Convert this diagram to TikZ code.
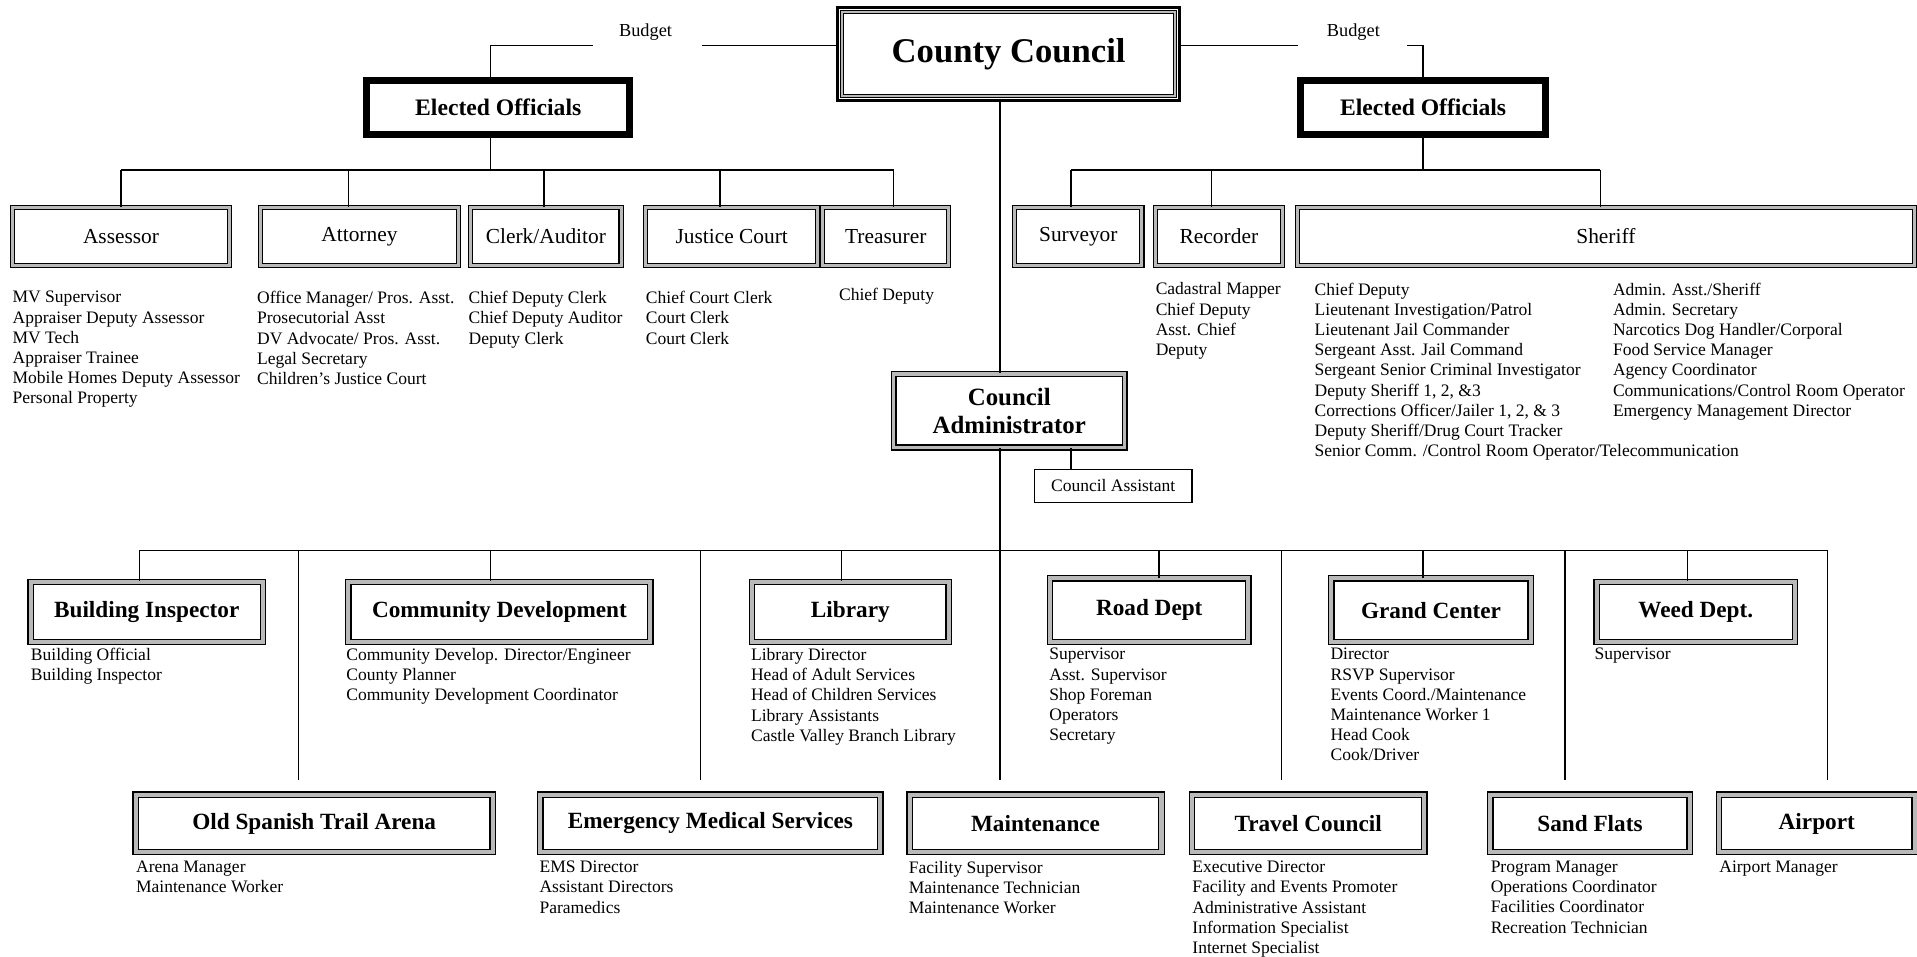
\documentclass[tikz,border=0pt]{standalone}
\usepackage{fontspec}
\setmainfont{Liberation Serif}
\newcommand\bx[7]{\node[#1, minimum width={(#4-#3)*0.6pt}, minimum height={(#6-#5)*0.6pt}] (#2) at ({(#3+#4)/2},{(#5+#6)/2}) {#7};}
\begin{document}
\begin{tikzpicture}[x=0.6pt,y=-0.6pt,
  ln/.style={line width=0.6pt},
  dblA/.style={draw=black, line width=0.55pt, double=gray!55, double distance=1.5pt, inner sep=0pt},
  dblB/.style={draw=black, line width=0.6pt, double=gray!55, double distance=2pt, inner sep=0pt},
  dblC/.style={draw=black, line width=0.45pt, double=gray!55, double distance=1.1pt},
  eobox/.style={draw=black, line width=3.4pt, inner sep=0pt, font=\fontsize{11.6}{14}\selectfont\bfseries},
  ccbox/.style={draw=black, line width=1.5pt, inner sep=0pt, font=\fontsize{17}{20}\selectfont\bfseries},
  thinbox/.style={draw=black, line width=0.6pt, inner sep=0pt, font=\fontsize{8.6}{9.9}\selectfont},
  lst/.style={anchor=north west, align=left, inner sep=0pt, font=\fontsize{8.6}{9.9}\selectfont},
  t1/.style={font=\fontsize{10.5}{12}\selectfont},
  t2/.style={font=\fontsize{11.4}{13}\selectfont\bfseries},
  bud/.style={inner sep=0pt, font=\fontsize{9}{10}\selectfont},
]
\useasboundingbox (0,0) rectangle (1568,782);

% ---------- top ----------
\bx{ccbox}{cc}{685}{965}{6}{82}{County Council}
\draw[dblC] ([shift={(5,5)}]cc.north west) rectangle ([shift={(-5,-5)}]cc.south east);
\bx{eobox}{eoL}{300}{515}{66}{110}{Elected Officials}
\bx{eobox}{eoR}{1064}{1264}{66}{110}{Elected Officials}
\node[bud] (budL) at (528,26) {Budget};
\node[bud] (budR) at (1107,26) {Budget};

\coordinate (bL1) at (574,37);
\coordinate (bL2) at (485,37);
\coordinate (bL3) at (401,37);
\coordinate (bR1) at (1062,37);
\coordinate (bR2) at (1151,37);
\coordinate (bR3) at (1164,37);
\draw[ln] (cc.west |- bL1) -- (bL1);
\draw[ln] (bL2) -- (bL3) -- (bL3 |- eoL.north);
\draw[ln] (cc.east |- bR1) -- (bR1);
\draw[ln] (bR2) -- (bR3) -- (bR3 |- eoR.north);

% ---------- elected officials' departments ----------
\bx{dblA,t1}{assessor}{10}{188}{170}{217}{Assessor}
\bx{dblA,t1}{attorney}{213}{375}{170}{217}{Attorney}
\bx{dblA,t1}{clerk}{385}{508}{170}{217}{Clerk/Auditor}
\bx{dblA,t1}{justice}{528}{669}{170}{217}{Justice Court}
\bx{dblA,t1}{treasurer}{673}{776}{170}{217}{Treasurer}
\bx{dblA,t1}{surveyor}{830}{934}{170}{217}{Surveyor}
\bx{dblA,t1}{recorder}{945}{1049}{170}{217}{Recorder}
\bx{dblA,t1}{sheriff}{1061}{1566}{170}{217}{Sheriff}

\coordinate (busL) at (401,139);
\coordinate (dA) at (99,139);
\coordinate (dB) at (285,139);
\coordinate (dC) at (445,139);
\coordinate (dD) at (589,139);
\coordinate (dE) at (731,139);
\draw[ln] (bL3 |- eoL.south) -- (busL);
\draw[ln] (dA) -- (dE);
\draw[ln] (dA) -- (dA |- assessor.north);
\draw[ln] (dB) -- (dB |- attorney.north);
\draw[ln] (dC) -- (dC |- clerk.north);
\draw[ln] (dD) -- (dD |- justice.north);
\draw[ln] (dE) -- (dE |- treasurer.north);

\coordinate (busR) at (1164,139);
\coordinate (dF) at (876,139);
\coordinate (dG) at (991,139);
\coordinate (dH) at (1309,139);
\draw[ln] (bR3 |- eoR.south) -- (busR);
\draw[ln] (dF) -- (dH);
\draw[ln] (dF) -- (dF |- surveyor.north);
\draw[ln] (dG) -- (dG |- recorder.north);
\draw[ln] (dH) -- (dH |- sheriff.north);

\node[lst] (lAss) at (10,238) {MV Supervisor\\Appraiser Deputy Assessor\\MV Tech\\Appraiser Trainee\\Mobile Homes Deputy Assessor\\Personal Property};
\node[lst] (lAtt) at (210,238) {Office Manager/ Pros. Asst.\\Prosecutorial Asst\\DV Advocate/ Pros. Asst.\\Legal Secretary\\Children’s Justice Court};
\node[lst] (lCle) at (383,238) {Chief Deputy Clerk\\Chief Deputy Auditor\\Deputy Clerk};
\node[lst] (lJus) at (528,238) {Chief Court Clerk\\Court Clerk\\Court Clerk};
\node[lst] (lTre) at (686,235) {Chief Deputy};
\node[lst] (lRec) at (945,231) {Cadastral Mapper\\Chief Deputy\\Asst. Chief\\Deputy};
\node[lst] (lSh1) at (1075,231) {Chief Deputy\\Lieutenant Investigation/Patrol\\Lieutenant Jail Commander\\Sergeant Asst. Jail Command\\Sergeant Senior Criminal Investigator\\Deputy Sheriff 1, 2, \&3\\Corrections Officer/Jailer 1, 2, \& 3\\Deputy Sheriff/Drug Court Tracker\\Senior Comm. /Control Room Operator/Telecommunication};
\node[lst] (lSh2) at (1319,231) {Admin. Asst./Sheriff\\Admin. Secretary\\Narcotics Dog Handler/Corporal\\Food Service Manager\\Agency Coordinator\\Communications/Control Room Operator\\Emergency Management Director};

% ---------- council administrator ----------
\bx{draw=black, line width=0.7pt, double=gray!55, double distance=1.6pt, inner sep=0pt, align=center, font=\fontsize{12.2}{13.8}\selectfont\bfseries}{ca}{731}{920}{306}{366}{Council\\Administrator}
\bx{thinbox}{cas}{846}{975}{384}{411}{Council Assistant}

\coordinate (cx) at (818,0);
\coordinate (asx) at (876,0);
\coordinate (mt) at (818,638);
\draw[ln] (cc.south -| cx) -- (ca.north -| cx);
\draw[ln] (ca.south -| cx) -- (mt);
\draw[ln] (ca.south -| asx) -- (cas.north -| asx);

% ---------- departments ----------
\bx{dblB,t2}{bi}{25}{215}{476}{525}{Building Inspector}
\bx{dblB,t2}{cd}{285}{532}{476}{525}{Community Development}
\bx{dblB,t2}{lib}{615}{776}{476}{525}{Library}
\bx{dblB,t2}{road}{859}{1021}{473}{525}{Road Dept}
\bx{dblB,t2}{grand}{1089}{1252}{473}{525}{Grand Center}
\bx{dblB,t2}{weed}{1306}{1468}{476}{525}{Weed Dept.}

\bx{dblB,t2}{osta}{111}{403}{650}{697}{Old Spanish Trail Arena}
\bx{dblB,t2}{ems}{442}{720}{650}{697}{Emergency Medical Services}
\bx{dblB,t2}{maint}{744}{950}{650}{697}{Maintenance}
\bx{dblB,t2}{travel}{975}{1165}{650}{697}{Travel Council}
\bx{dblB,t2}{sand}{1219}{1382}{650}{697}{Sand Flats}
\bx{dblB,t2}{airport}{1406}{1566}{650}{697}{Airport}

\coordinate (u1) at (114,450);
\coordinate (u2) at (401,450);
\coordinate (u3) at (688,450);
\coordinate (u4) at (948,450);
\coordinate (u5) at (1164,450);
\coordinate (u6) at (1380,450);
\coordinate (v1) at (244,450);
\coordinate (v2) at (573,450);
\coordinate (v4) at (1048,450);
\coordinate (v5) at (1280,450);
\coordinate (v6) at (1495,450);
\coordinate (w1) at (244,638);
\coordinate (w2) at (573,638);
\coordinate (w4) at (1048,638);
\coordinate (w5) at (1280,638);
\coordinate (w6) at (1495,638);
\draw[ln] (u1) -- (v6);
\draw[ln] (u1) -- (u1 |- bi.north);
\draw[ln] (u2) -- (u2 |- cd.north);
\draw[ln] (u3) -- (u3 |- lib.north);
\draw[ln] (u4) -- (u4 |- road.north);
\draw[ln] (u5) -- (u5 |- grand.north);
\draw[ln] (u6) -- (u6 |- weed.north);
\draw[ln] (v1) -- (w1);
\draw[ln] (v2) -- (w2);
\draw[ln] (v4) -- (w4);
\draw[ln] (v5) -- (w5);
\draw[ln] (v6) -- (w6);

\node[lst] (lBi) at (25,530) {Building Official\\Building Inspector};
\node[lst] (lCd) at (283,530) {Community Develop. Director/Engineer\\County Planner\\Community Development Coordinator};
\node[lst] (lLib) at (614,530) {Library Director\\Head of Adult Services\\Head of Children Services\\Library Assistants\\Castle Valley Branch Library};
\node[lst] (lRoad) at (858,530) {Supervisor\\Asst. Supervisor\\Shop Foreman\\Operators\\Secretary};
\node[lst] (lGrand) at (1088,530) {Director\\RSVP Supervisor\\Events Coord./Maintenance\\Maintenance Worker 1\\Head Cook\\Cook/Driver};
\node[lst] (lWeed) at (1304,530) {Supervisor};

\node[lst] (lOsta) at (111,704) {Arena Manager\\Maintenance Worker};
\node[lst] (lEms) at (441,704) {EMS Director\\Assistant Directors\\Paramedics};
\node[lst] (lMaint) at (743,704) {Facility Supervisor\\Maintenance Technician\\Maintenance Worker};
\node[lst] (lTravel) at (975,704) {Executive Director\\Facility and Events Promoter\\Administrative Assistant\\Information Specialist\\Internet Specialist};
\node[lst] (lSand) at (1219,704) {Program Manager\\Operations Coordinator\\Facilities Coordinator\\Recreation Technician};
\node[lst] (lAir) at (1406,704) {Airport Manager};
\end{tikzpicture}
\end{document}
